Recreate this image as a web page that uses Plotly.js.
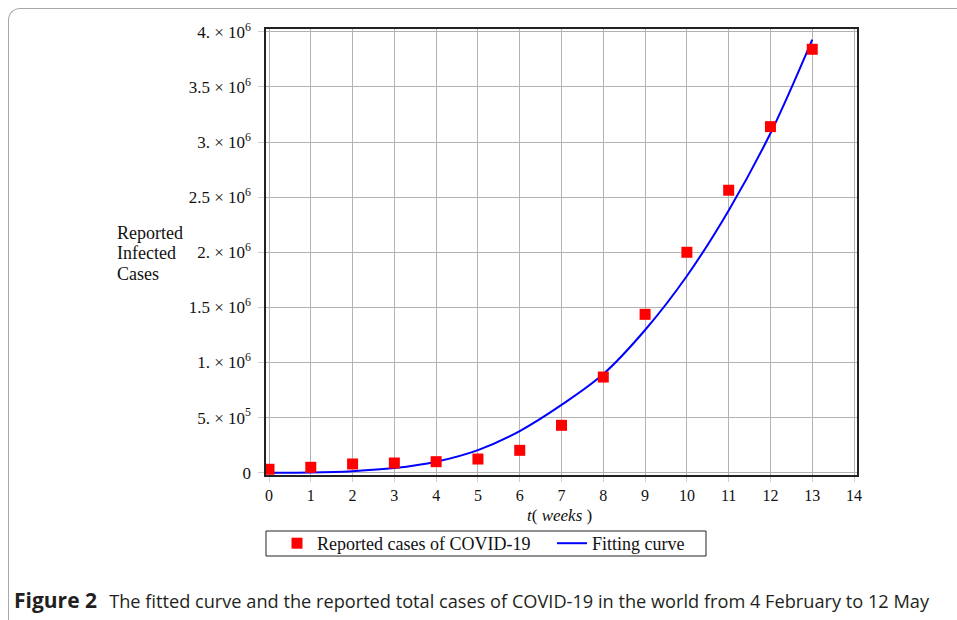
<!DOCTYPE html>
<html>
<head>
<meta charset="utf-8">
<script src="https://cdn.plot.ly/plotly-3.0.1.min.js"></script>
<style>
  html, body { margin: 0; padding: 0; background: #fff; }
  #wrap { position: relative; width: 957px; height: 620px; overflow: hidden; }
  #frame { position: absolute; left: 8px; top: 8px; width: 980px; height: 700px;
           border-top: 1px solid #a8a8a8; border-left: 1px solid #a8a8a8;
           border-top-left-radius: 12px; box-sizing: border-box; }
  #chart { position: absolute; left: 0; top: 0; width: 957px; height: 620px; }
</style>
</head>
<body>
<div id="wrap">
  <div id="frame"></div>
  <div id="chart"></div>
</div>
<script>
// ---- data ----
const weeks = [0, 1, 2, 3, 4, 5, 6, 7, 8, 9, 10, 11, 12, 13];
const reportedCases = [31000, 49000, 79000, 88000, 100000, 124000, 203000, 430000,
                       868000, 1437000, 2000000, 2563000, 3140000, 3842000];
const fitCases = [0, 2000, 14000, 42000, 100000, 205000, 378000, 615000,
                  895000, 1295000, 1785000, 2380000, 3080000, 3930000];
const xTickVals = [0, 1, 2, 3, 4, 5, 6, 7, 8, 9, 10, 11, 12, 13, 14];
const yTickVals = [0, 500000, 1000000, 1500000, 2000000, 2500000, 3000000, 3500000, 4000000];
const yTickText = ['0', '5. \u00d7 10<sup>5</sup>', '1. \u00d7 10<sup>6</sup>', '1.5 \u00d7 10<sup>6</sup>',
                   '2. \u00d7 10<sup>6</sup>', '2.5 \u00d7 10<sup>6</sup>', '3. \u00d7 10<sup>6</sup>',
                   '3.5 \u00d7 10<sup>6</sup>', '4. \u00d7 10<sup>6</sup>'];
const yLabelLines = ['Reported', 'Infected', 'Cases'];
const xLabel = '<i>t</i>( <i>weeks</i> )';
const legendNames = ['Reported cases of COVID-19', 'Fitting curve'];
const captionBold = 'Figure 2';
const captionText = 'The fitted curve and the reported total cases of COVID-19 in the world from 4 February to 12 May';

// ---- layout geometry (pixels) ----
const W = 957, H = 620;
const M = { l: 266, r: 100, t: 29, b: 145 };
const PW = W - M.l - M.r, PH = H - M.t - M.b;
const px = x => (x - M.l) / PW;
const py = y => (H - M.b - y) / PH;

const serif = 'Liberation Serif, Times New Roman, serif';

const traces = [
  {
    x: weeks, y: fitCases, type: 'scatter', mode: 'lines',
    name: legendNames[1], line: { color: '#0000ff', width: 2, shape: 'spline', smoothing: 1 },
    hoverinfo: 'skip'
  },
  {
    x: weeks, y: reportedCases, type: 'scatter', mode: 'markers',
    name: legendNames[0], marker: { color: '#ff0000', symbol: 'square', size: 11 }
  }
];

const annotations = yLabelLines.map((t, i) => ({
  text: t, xref: 'paper', yref: 'paper', x: px(115), y: py(233 + i * 20.5),
  xanchor: 'left', yanchor: 'middle', showarrow: false,
  font: { family: serif, size: 18, color: '#111' }
}));
annotations.push({
  text: xLabel, xref: 'paper', yref: 'paper', x: px(559), y: py(515),
  xanchor: 'center', yanchor: 'middle', showarrow: false,
  font: { family: serif, size: 17, color: '#111' }
});
annotations.push({
  text: '<b><span style="font-size:21px">' + captionBold + '</span></b>\u2002\u2009' + captionText,
  xref: 'paper', yref: 'paper', x: px(12), y: py(600),
  xanchor: 'left', yanchor: 'middle', showarrow: false,
  font: { family: 'Open Sans, sans-serif', size: 18.2, color: '#231f20' }
});

const shapes = [{
  type: 'rect', xref: 'paper', yref: 'paper',
  x0: px(266), x1: px(706), y0: py(531), y1: py(556),
  line: { color: '#222', width: 1 }, fillcolor: 'rgba(0,0,0,0)', layer: 'above'
}];

const layout = {
  width: W, height: H,
  margin: M,
  paper_bgcolor: 'rgba(0,0,0,0)', plot_bgcolor: '#fff',
  showlegend: true,
  legend: {
    orientation: 'h', x: px(277), y: py(543.5), xanchor: 'left', yanchor: 'middle',
    traceorder: 'reversed', borderwidth: 0, bgcolor: 'rgba(0,0,0,0)',
    entrywidth: 230, entrywidthmode: 'pixels',
    font: { family: serif, size: 18, color: '#111' }
  },
  xaxis: {
    range: [-0.0718, 14.071], tickvals: xTickVals, ticktext: xTickVals.map(String),
    showgrid: true, gridcolor: '#b3b3b3', gridwidth: 1,
    showline: true, mirror: true, linecolor: '#222', linewidth: 1.6,
    ticks: 'outside', ticklen: 5, tickcolor: '#cfcfcf', tickwidth: 1,
    zeroline: false,
    tickfont: { family: serif, size: 16, color: '#111' }
  },
  yaxis: {
    range: [-20900, 4026000], tickvals: yTickVals, ticktext: yTickText,
    showgrid: true, gridcolor: '#b3b3b3', gridwidth: 1,
    showline: true, mirror: true, linecolor: '#222', linewidth: 1.6,
    ticks: 'outside', ticklen: 6, tickcolor: '#cfcfcf', tickwidth: 1,
    ticklabelstandoff: 4,
    zeroline: false,
    tickfont: { family: serif, size: 17, color: '#111' }
  },
  shapes: shapes,
  annotations: annotations
};

Plotly.newPlot('chart', traces, layout, { displayModeBar: false, staticPlot: true });
</script>
</body>
</html>
